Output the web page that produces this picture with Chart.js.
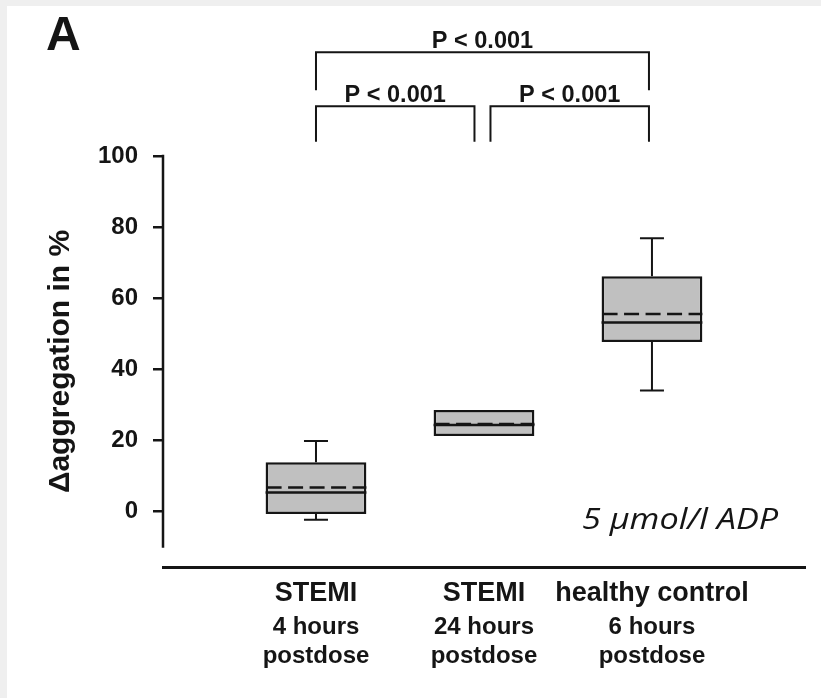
<!DOCTYPE html>
<html>
<head>
<meta charset="utf-8">
<title>Aggregation 5 µmol/l ADP</title>
<script src="https://cdn.jsdelivr.net/npm/chart.js@4.4.0/dist/chart.umd.min.js"></script>
<style>
  body { margin: 0; background: #fff; }
  canvas { display: block; }
</style>
</head>
<body>
<canvas id="myChart" width="821" height="698"></canvas>
<script>
// groups and box plot statistics (Δaggregation in %)
const groups = ['STEMI', 'STEMI', 'healthy control'];
const groupDetails = [['4 hours', 'postdose'], ['24 hours', 'postdose'], ['6 hours', 'postdose']];
const whiskerLow = [-2.5, 21.1, 33.9];
const q1 = [-0.9, 21.1, 47.6];
const median = [5.2, 24.2, 53.1];
const mean = [6.6, 24.5, 55.5];
const q3 = [13.7, 28.4, 66.1];
const whiskerHigh = [19.7, 28.4, 76.8];
const yTicks = [0, 20, 40, 60, 80, 100];
// pairwise tests: [first group, second group]
const comparisons = [[0, 1], [1, 2], [0, 2]];
const pLabels = ['P < 0.001', 'P < 0.001', 'P < 0.001'];

const ink = '#151515';
const fontFamily = '"Liberation Sans", Arial, sans-serif';

let boxPlotLogic = () => {
    // brackets sit above the plot, in y units: bar level and where the legs stop
    const bracketLevels = [{bar: 114, leg: 104}, {bar: 114, leg: 104}, {bar: 129.2, leg: 118.5}];

    const boxExtras = {
        id: 'boxExtras',
        beforeDraw(chart) {
            const {ctx, width, height} = chart;
            ctx.save();
            ctx.fillStyle = '#fff';
            ctx.fillRect(0, 0, width, height);
            ctx.fillStyle = '#efefef';
            ctx.fillRect(0, 0, width, 6);
            ctx.fillRect(0, 0, 7, height);
            ctx.restore();
        },
        afterDatasetsDraw(chart) {
            const {ctx} = chart;
            const x = chart.scales.x, y = chart.scales.y;
            const bars = chart.getDatasetMeta(0).data;
            ctx.save();
            ctx.strokeStyle = ink;
            groups.forEach((g, i) => {
                const cx = x.getPixelForValue(i + 1);
                const half = bars[i].width / 2;
                // whiskers with caps
                ctx.lineWidth = 2;
                [[q3[i], whiskerHigh[i]], [q1[i], whiskerLow[i]]].forEach(([from, to]) => {
                    if (from === to) return;
                    const yTo = y.getPixelForValue(to);
                    ctx.beginPath();
                    ctx.moveTo(cx, y.getPixelForValue(from));
                    ctx.lineTo(cx, yTo);
                    ctx.moveTo(cx - 12, yTo);
                    ctx.lineTo(cx + 12, yTo);
                    ctx.stroke();
                });
                // median solid, mean dashed
                ctx.lineWidth = 2.5;
                const ym = y.getPixelForValue(median[i]);
                ctx.beginPath();
                ctx.moveTo(cx - half, ym);
                ctx.lineTo(cx + half, ym);
                ctx.stroke();
                const ya = y.getPixelForValue(mean[i]);
                ctx.setLineDash([15, 6.5]);
                ctx.beginPath();
                ctx.moveTo(cx - half + 1, ya);
                ctx.lineTo(cx + half, ya);
                ctx.stroke();
                ctx.setLineDash([]);
            });
            ctx.restore();
        },
        afterDraw(chart) {
            const {ctx, chartArea} = chart;
            const x = chart.scales.x, y = chart.scales.y;
            ctx.save();
            ctx.strokeStyle = ink;
            // y axis line stops short of the x axis
            ctx.lineWidth = 2.5;
            ctx.beginPath();
            ctx.moveTo(chartArea.left, y.getPixelForValue(yTicks[yTicks.length - 1]) - 1.25);
            ctx.lineTo(chartArea.left, y.getPixelForValue(-10.4));
            ctx.stroke();

            // significance brackets
            ctx.lineWidth = 2;
            ctx.fillStyle = ink;
            ctx.font = 'bold 23.5px ' + fontFamily;
            ctx.textAlign = 'center';
            ctx.textBaseline = 'alphabetic';
            const shared = (k, idx) => comparisons.filter((c, j) =>
                bracketLevels[j].bar === bracketLevels[k].bar && c.includes(idx)).length > 1;
            comparisons.forEach(([a, b], k) => {
                const lvl = bracketLevels[k];
                const x1 = x.getPixelForValue(a + 1) + (shared(k, a) ? 6.5 : 0);
                const x2 = x.getPixelForValue(b + 1) - (shared(k, b) ? 6.5 : 0) - 3;
                const yb = y.getPixelForValue(lvl.bar);
                const yl = y.getPixelForValue(lvl.leg);
                ctx.beginPath();
                ctx.moveTo(x1, yl);
                ctx.lineTo(x1, yb);
                ctx.lineTo(x2, yb);
                ctx.lineTo(x2, yl);
                ctx.stroke();
                ctx.fillText(pLabels[k], (x1 + x2) / 2, yb - 4.5);
            });

            // panel letter and agonist note
            ctx.textAlign = 'left';
            ctx.font = 'bold 48px ' + fontFamily;
            ctx.fillText('A', 46, 50);
            ctx.font = 'italic 30px "Open Sans", "Noto Sans", sans-serif';
            ctx.translate(582, 529);
            ctx.scale(1.14, 1);
            ctx.fillText('5 µmol/l ADP', 0, 0);
            ctx.restore();
        }
    };

    function plotBoxChart() {
        const data = {
            datasets: [{
                label: 'Δaggregation',
                data: groups.map((g, i) => ({x: i + 1, y: [q1[i], q3[i]]})),
                backgroundColor: '#c0c0c0',
                borderColor: ink,
                borderWidth: 2.5,
                borderSkipped: false,
                categoryPercentage: 0.6,
                barPercentage: 1
            }]
        };
        const xTicks = (scale) => { scale.ticks = groups.map((g, i) => ({value: i + 1})); };
        const config = {
            type: 'bar',
            data: data,
            plugins: [boxExtras],
            options: {
                responsive: false,
                animation: false,
                layout: {padding: {top: 156, right: 16, left: 0, bottom: 0}},
                plugins: {legend: {display: false}, tooltip: {enabled: false}},
                scales: {
                    x: {
                        type: 'linear',
                        position: 'bottom',
                        offset: false,
                        weight: 1,
                        min: 0.0893,
                        max: 3.911,
                        afterBuildTicks: xTicks,
                        afterFit: (s) => { s.height = 40; },
                        grid: {display: false, drawTicks: false, offset: false},
                        border: {display: true, color: ink, width: 3},
                        ticks: {
                            autoSkip: false,
                            maxRotation: 0,
                            padding: 10,
                            color: ink,
                            font: {family: fontFamily, size: 27, weight: 'bold'},
                            callback: (v) => groups[v - 1]
                        }
                    },
                    x2: {
                        type: 'linear',
                        position: 'bottom',
                        offset: false,
                        weight: 2,
                        min: 0.0893,
                        max: 3.911,
                        afterBuildTicks: xTicks,
                        afterFit: (s) => { s.height = 91; },
                        grid: {display: false, drawTicks: false, offset: false},
                        border: {display: false},
                        ticks: {
                            autoSkip: false,
                            maxRotation: 0,
                            padding: 6,
                            color: ink,
                            font: {family: fontFamily, size: 24, weight: 'bold', lineHeight: 1.2},
                            callback: (v) => groupDetails[v - 1]
                        }
                    },
                    y: {
                        min: -15.8,
                        max: 100,
                        afterBuildTicks: (s) => { s.ticks = yTicks.map(v => ({value: v})); },
                        afterFit: (s) => { s.width = 163; },
                        border: {display: false},
                        grid: {display: true, drawOnChartArea: false, drawTicks: true, tickLength: 10, lineWidth: 2.5, color: ink},
                        ticks: {
                            padding: 15,
                            color: ink,
                            font: {family: fontFamily, size: 24, weight: 'bold'}
                        },
                        title: {
                            display: true,
                            text: 'Δaggregation in %',
                            color: ink,
                            padding: {top: 43, bottom: 0},
                            font: {family: fontFamily, size: 30, weight: 'bold'}
                        }
                    }
                }
            }
        };
        new Chart(document.getElementById('myChart'), config);
    }
    plotBoxChart();
};
boxPlotLogic();
</script>
</body>
</html>
